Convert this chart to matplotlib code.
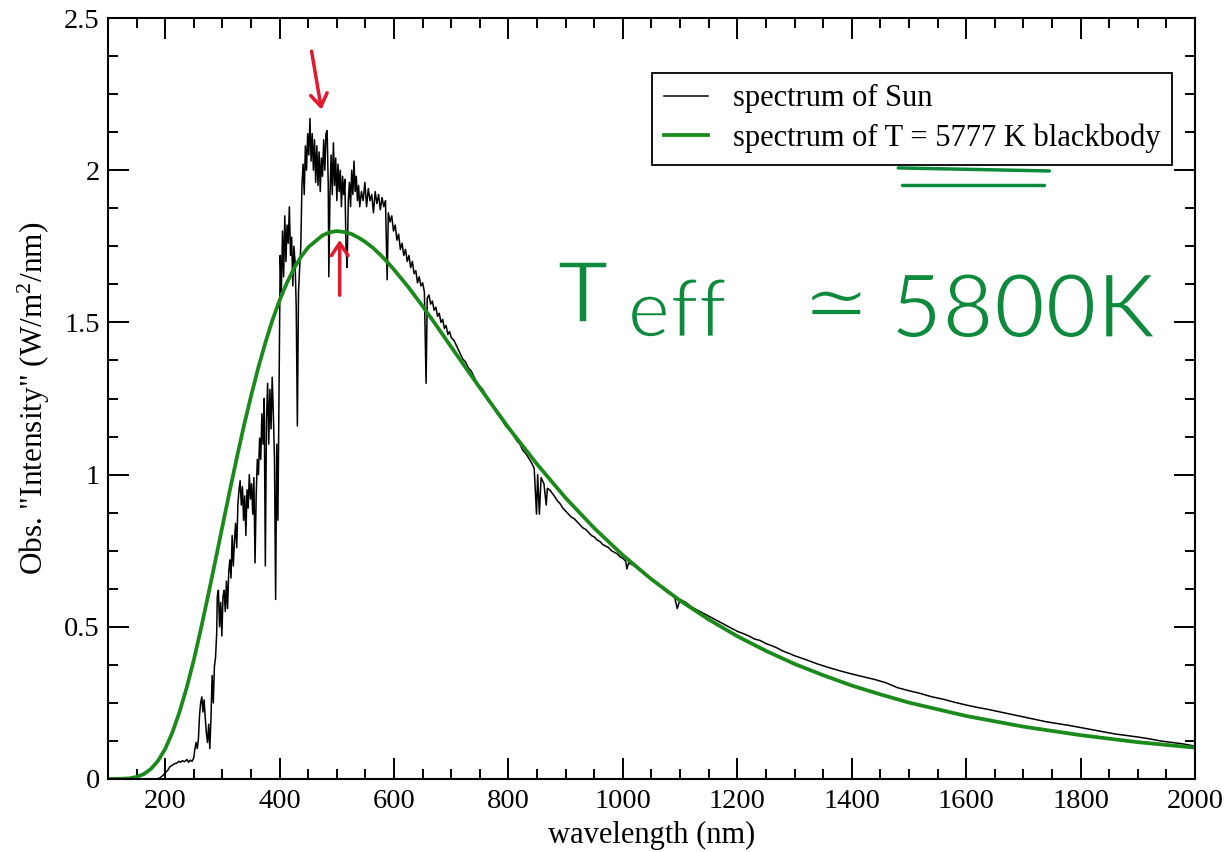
import matplotlib
matplotlib.use("Agg")
import matplotlib.pyplot as plt
import matplotlib.patheffects as pe
from matplotlib.ticker import MultipleLocator

sun_wl = [100, 150, 185, 190, 195, 200, 205, 208, 212, 216, 220, 224, 227, 230, 234, 238, 241, 244, 247, 250,
          252, 254, 256, 258, 260, 262, 264, 266, 268, 270, 272, 274, 276, 278, 280, 282, 284, 286, 288, 290,
          291, 293, 295, 297, 299, 301, 303, 305, 307, 309, 311, 313, 315, 317, 319, 321, 323, 325, 327, 329,
          331, 333, 335, 337, 339, 341, 343, 345, 347, 349, 351, 353, 355, 357, 359, 361, 363, 365, 367, 369,
          371, 373, 375, 377, 379, 381, 383, 385, 387, 389, 391, 393, 395, 397, 399, 401, 403, 405, 407, 409,
          411, 413, 415, 417, 419, 421, 423, 425, 427, 429, 431, 433, 435, 437, 439, 441, 443, 445, 447, 449,
          451, 453, 455, 457, 459, 461, 463, 465, 467, 469, 471, 473, 475, 477, 479, 481, 483, 485, 486, 488,
          490, 492, 494, 496, 498, 500, 502, 504, 506, 508, 510, 512, 514, 516, 518, 520, 522, 524, 526, 528,
          530, 532, 534, 536, 538, 540, 543, 546, 549, 552, 555, 558, 561, 564, 567, 570, 573, 576, 579, 582,
          585, 588, 590, 593, 596, 599, 602, 605, 608, 611, 614, 617, 620, 623, 626, 629, 632, 635, 638, 641,
          644, 647, 650, 653, 656, 658, 661, 664, 667, 670, 673, 676, 679, 682, 685, 688, 691, 694, 697, 700,
          705, 710, 715, 720, 725, 730, 735, 740, 745, 750, 755, 760, 765, 770, 775, 780, 785, 790, 795, 800,
          805, 810, 815, 820, 825, 830, 835, 840, 845, 849, 851, 854, 857, 862, 866, 868, 872, 876, 880, 885,
          890, 895, 900, 905, 910, 915, 920, 925, 930, 935, 940, 945, 950, 955, 960, 965, 970, 975, 980, 985,
          990, 995, 1000, 1005, 1007, 1010, 1020, 1030, 1040, 1050, 1060, 1070, 1080, 1090, 1095, 1100, 1110, 1120, 1130, 1140,
          1150, 1160, 1170, 1180, 1190, 1200, 1210, 1220, 1230, 1240, 1250, 1260, 1270, 1280, 1290, 1300, 1320, 1340, 1360, 1380,
          1400, 1420, 1440, 1460, 1480, 1500, 1520, 1540, 1560, 1580, 1600, 1620, 1640, 1660, 1680, 1700, 1720, 1740, 1760, 1780,
          1800, 1820, 1840, 1860, 1880, 1900, 1920, 1940, 1960, 1980, 2000]
sun_flux = [0, 0, 0, 0.003, 0.01, 0.02, 0.03, 0.04, 0.045, 0.05, 0.052, 0.058, 0.055, 0.06, 0.057, 0.064, 0.055, 0.062, 0.058, 0.07,
            0.10, 0.12, 0.10, 0.13, 0.21, 0.25, 0.27, 0.22, 0.26, 0.20, 0.15, 0.12, 0.18, 0.10, 0.20, 0.34, 0.25, 0.37, 0.40, 0.48,
            0.60, 0.62, 0.50, 0.58, 0.47, 0.60, 0.62, 0.55, 0.65, 0.56, 0.68, 0.72, 0.66, 0.80, 0.70, 0.78, 0.84, 0.76, 0.90, 0.95,
            0.98, 0.90, 0.96, 0.85, 0.93, 0.80, 0.95, 0.89, 1.00, 0.92, 0.97, 0.87, 0.99, 0.71, 0.93, 1.05, 1.00, 1.12, 1.05, 1.20,
            1.10, 1.25, 0.70, 1.18, 1.30, 1.10, 1.28, 1.15, 1.32, 1.20, 1.05, 0.59, 1.10, 0.85, 1.30, 1.72, 1.60, 1.80, 1.65, 1.85,
            1.70, 1.82, 1.76, 1.88, 1.72, 1.78, 1.62, 1.75, 1.70, 1.55, 1.16, 1.60, 1.68, 1.75, 1.95, 2.02, 1.92, 2.08, 2.00, 2.12,
            2.05, 2.17, 2.03, 2.12, 2.00, 2.10, 1.96, 2.08, 1.95, 2.06, 1.93, 2.04, 1.98, 2.10, 2.00, 2.12, 2.13, 1.95, 1.65, 1.92,
            2.05, 1.92, 2.09, 1.95, 2.04, 1.90, 2.02, 1.93, 2.00, 1.88, 1.98, 1.92, 1.97, 1.75, 1.68, 1.90, 1.96, 1.88, 2.00, 1.92,
            2.03, 1.93, 1.98, 1.90, 1.95, 1.88, 1.93, 1.90, 1.96, 1.88, 1.94, 1.90, 1.92, 1.86, 1.93, 1.89, 1.92, 1.87, 1.91, 1.88,
            1.90, 1.64, 1.86, 1.83, 1.85, 1.80, 1.82, 1.77, 1.79, 1.74, 1.76, 1.72, 1.74, 1.70, 1.72, 1.68, 1.70, 1.66, 1.67, 1.63,
            1.65, 1.62, 1.63, 1.60, 1.30, 1.58, 1.59, 1.56, 1.57, 1.54, 1.55, 1.52, 1.53, 1.50, 1.51, 1.48, 1.49, 1.46, 1.47, 1.45,
            1.44, 1.42, 1.40, 1.38, 1.37, 1.35, 1.34, 1.32, 1.30, 1.29, 1.28, 1.26, 1.24, 1.235, 1.22, 1.20, 1.19, 1.175, 1.16, 1.15,
            1.14, 1.125, 1.11, 1.10, 1.08, 1.07, 1.055, 1.04, 1.02, 0.87, 1.00, 0.87, 0.99, 0.97, 0.90, 0.955, 0.95, 0.94, 0.93, 0.915,
            0.905, 0.89, 0.88, 0.87, 0.86, 0.855, 0.845, 0.835, 0.825, 0.82, 0.81, 0.80, 0.795, 0.785, 0.78, 0.77, 0.765, 0.76, 0.75, 0.745,
            0.74, 0.73, 0.725, 0.715, 0.69, 0.71, 0.70, 0.685, 0.67, 0.655, 0.64, 0.625, 0.61, 0.60, 0.56, 0.59, 0.58, 0.565, 0.555, 0.545,
            0.535, 0.525, 0.515, 0.505, 0.495, 0.485, 0.478, 0.47, 0.46, 0.455, 0.445, 0.438, 0.43, 0.42, 0.413, 0.405, 0.392, 0.378, 0.366, 0.355,
            0.345, 0.336, 0.327, 0.316, 0.30, 0.29, 0.281, 0.27, 0.262, 0.252, 0.243, 0.235, 0.228, 0.22, 0.212, 0.204, 0.196, 0.188, 0.182, 0.176,
            0.169, 0.162, 0.155, 0.148, 0.143, 0.138, 0.132, 0.125, 0.12, 0.115, 0.108]

# blackbody curve
bb_wl = [100, 125, 137.5, 150, 162.5, 175, 187.5, 200, 212.5, 225, 237.5, 250, 262.5, 275, 287.5, 300, 312.5, 325, 337.5, 350,
         362.5, 375, 387.5, 400, 412.5, 425, 437.5, 450, 475, 487.5, 500, 512.5, 525, 537.5, 550, 562.5, 575, 587.5, 600, 625,
         650, 675, 700, 725, 750, 800, 850, 900, 950, 1000, 1050, 1100, 1150, 1200, 1250, 1300, 1350, 1400, 1450, 1500,
         1600, 1700, 1800, 1900, 2000]
bb_flux = [0.0, 0.001, 0.002, 0.007, 0.016, 0.033, 0.060, 0.099, 0.153, 0.220, 0.300, 0.391, 0.494, 0.603, 0.716, 0.830, 0.944, 1.054, 1.160, 1.258,
           1.350, 1.433, 1.508, 1.573, 1.629, 1.677, 1.716, 1.747, 1.786, 1.796, 1.800, 1.797, 1.791, 1.779, 1.764, 1.746, 1.724, 1.700, 1.673, 1.616,
           1.553, 1.487, 1.419, 1.352, 1.285, 1.154, 1.034, 0.923, 0.824, 0.735, 0.656, 0.586, 0.524, 0.469, 0.421, 0.378, 0.341, 0.307, 0.278, 0.251,
           0.207, 0.172, 0.144, 0.121, 0.103]

x_ticks = [200, 400, 600, 800, 1000, 1200, 1400, 1600, 1800, 2000]
x_labels = ["200", "400", "600", "800", "1000", "1200", "1400", "1600", "1800", "2000"]
y_ticks = [0, 0.5, 1, 1.5, 2, 2.5]
y_labels = ["0", "0.5", "1", "1.5", "2", "2.5"]

GREEN = "#1a8a1a"
HAND_GREEN = "#0e8a3c"
RED = "#e5172c"

plt.rcParams['font.family'] = ['Liberation Serif', 'DejaVu Serif']
plt.rcParams['mathtext.fontset'] = 'custom'
plt.rcParams['mathtext.rm'] = 'Liberation Serif'
plt.rcParams['mathtext.it'] = 'Liberation Serif:italic'

fig = plt.figure(figsize=(12.32, 8.52), dpi=100)
ax = fig.add_axes([108/1232, 73/852, 1087/1232, 761/852])

ax.plot(sun_wl, sun_flux, color='black', lw=1.1, label='spectrum of Sun')
ax.plot(bb_wl, bb_flux, color=GREEN, lw=2.7, label='spectrum of T = 5777 K blackbody')

ax.set_xlim(100, 2000)
ax.set_ylim(0, 2.5)
ax.set_xticks(x_ticks)
ax.set_xticklabels(x_labels)
ax.xaxis.set_minor_locator(MultipleLocator(50))
ax.set_yticks(y_ticks)
ax.set_yticklabels(y_labels)
ax.yaxis.set_minor_locator(MultipleLocator(0.125))
ax.tick_params(which='both', direction='in', top=True, right=True, width=1.4, labelsize=20.5)
ax.tick_params(which='major', length=15)
ax.tick_params(which='minor', length=7.5)
ax.tick_params(axis='x', pad=7)
ax.tick_params(axis='y', pad=6)
for s in ax.spines.values():
    s.set_linewidth(1.5)

ax.set_xlabel('wavelength (nm)', fontsize=22, labelpad=5)
ax.set_ylabel('Obs. "Intensity" (W/m$^2$/nm)', fontsize=22.5, labelpad=9)

leg = ax.legend(loc='upper right', bbox_to_anchor=(0.979, 0.928), fontsize=22, frameon=True,
                fancybox=False, edgecolor='black', framealpha=1, borderaxespad=0,
                handlelength=1.47, handletextpad=0.8, labelspacing=0.33, borderpad=0.38)
leg.get_frame().set_linewidth(1.3)

# hand-drawn marks
ax.annotate('', xy=(474, 2.19), xytext=(455, 2.40),
            arrowprops=dict(arrowstyle='->,head_length=0.9,head_width=0.6', color=RED, lw=2.5))
ax.annotate('', xy=(505, 1.78), xytext=(505, 1.58),
            arrowprops=dict(arrowstyle='->,head_length=0.9,head_width=0.6', color=RED, lw=2.5))
ax.plot([0.727, 0.866], [0.803, 0.799], transform=ax.transAxes, color=HAND_GREEN, lw=2.5, solid_capstyle='round')
ax.plot([0.730, 0.861], [0.781, 0.781], transform=ax.transAxes, color=HAND_GREEN, lw=2.5, solid_capstyle='round')

# thin the pen strokes a little
thin = [pe.Normal(), pe.PathPatchEffect(edgecolor='white', facecolor='none', linewidth=1.8)]
ax.text(0.413, 0.600, 'T', transform=ax.transAxes, fontsize=62, color=HAND_GREEN,
        family=['Lato', 'DejaVu Sans'], va='baseline', ha='left', path_effects=thin)
ax.text(0.478, 0.581, 'eff', transform=ax.transAxes, fontsize=58, color=HAND_GREEN,
        family=['Lato', 'DejaVu Sans'], va='baseline', ha='left', path_effects=thin)
ax.text(0.670, 0.620, '≃', transform=ax.transAxes, fontsize=58, color=HAND_GREEN,
        family=['DejaVu Sans'], va='center', ha='center', path_effects=thin)
ax.text(0.720, 0.580, '5800K', transform=ax.transAxes, fontsize=64, color=HAND_GREEN,
        family=['Lato', 'DejaVu Sans'], va='baseline', ha='left', path_effects=thin)

fig.savefig('out.png', dpi=100)
